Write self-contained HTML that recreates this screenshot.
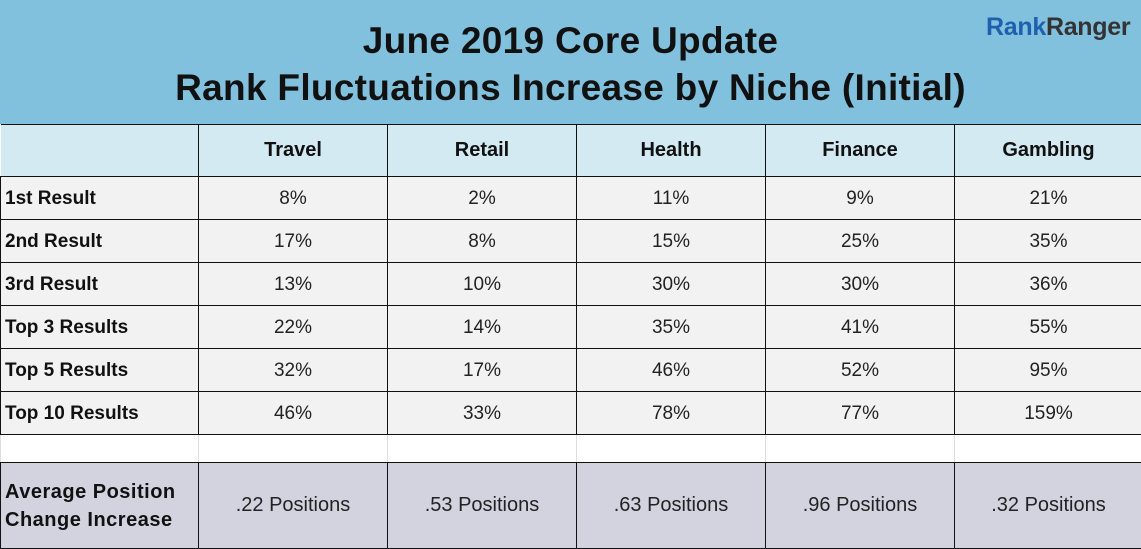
<!DOCTYPE html>
<html><head><style>
body{margin:0;width:1141px;height:548px;overflow:hidden;background:#fff;font-family:"Liberation Sans",sans-serif}
.hd{position:absolute;left:0;top:0;width:1141px;height:124px;background:#81c1de}
.t{position:absolute;left:0;width:1141px;text-align:center;font-weight:bold;font-size:37px;color:#111;letter-spacing:0.3px}
.logo{position:absolute;left:986px;top:13px;font-weight:bold;font-size:25px;letter-spacing:-0.3px}
table{position:absolute;left:0;top:124px;border-collapse:collapse;width:1142px;table-layout:fixed}
td{border:1.5px solid #111;text-align:center;font-size:19px;color:#222;padding:0}
td.l{text-align:left;padding-left:4px;font-weight:bold;font-size:19px;color:#111}
tr.h td{background:#d4eaf3;height:51px;font-weight:bold;font-size:20px;color:#111}
tr.d td{background:#f2f2f2;height:40px;padding-top:2px}
tr.b td{background:#fff;height:27px;border-top:1.5px solid #111;border-bottom:1.5px solid #111;border-left:1px solid #ddd;border-right:1px solid #ddd}
tr.a td{background:#d3d3e0;height:85px;font-size:20px}
tr.a td.l{line-height:28px;font-size:20px;letter-spacing:0.5px}
</style></head><body>
<div class="hd"></div>
<div class="t" style="top:20px">June 2019 Core Update</div>
<div class="t" style="top:67px">Rank Fluctuations Increase by Niche (Initial)</div>
<div class="logo"><span style="color:#1f5fae">Rank</span><span style="color:#333">Ranger</span></div>
<table>
<colgroup><col style="width:198px"><col style="width:189px"><col style="width:189px"><col style="width:189px"><col style="width:189px"><col style="width:188px"></colgroup>
<tr class="h"><td style="border-left:none"></td><td>Travel</td><td>Retail</td><td>Health</td><td>Finance</td><td>Gambling</td></tr>
<tr class="d"><td class="l">1st Result</td><td>8%</td><td>2%</td><td>11%</td><td>9%</td><td>21%</td></tr>
<tr class="d"><td class="l">2nd Result</td><td>17%</td><td>8%</td><td>15%</td><td>25%</td><td>35%</td></tr>
<tr class="d"><td class="l">3rd Result</td><td>13%</td><td>10%</td><td>30%</td><td>30%</td><td>36%</td></tr>
<tr class="d"><td class="l">Top 3 Results</td><td>22%</td><td>14%</td><td>35%</td><td>41%</td><td>55%</td></tr>
<tr class="d"><td class="l">Top 5 Results</td><td>32%</td><td>17%</td><td>46%</td><td>52%</td><td>95%</td></tr>
<tr class="d"><td class="l">Top 10 Results</td><td>46%</td><td>33%</td><td>78%</td><td>77%</td><td>159%</td></tr>
<tr class="b"><td></td><td></td><td></td><td></td><td></td><td></td></tr>
<tr class="a"><td class="l">Average Position<br>Change Increase</td><td>.22 Positions</td><td>.53 Positions</td><td>.63 Positions</td><td>.96 Positions</td><td>.32 Positions</td></tr>
</table>
</body></html>
